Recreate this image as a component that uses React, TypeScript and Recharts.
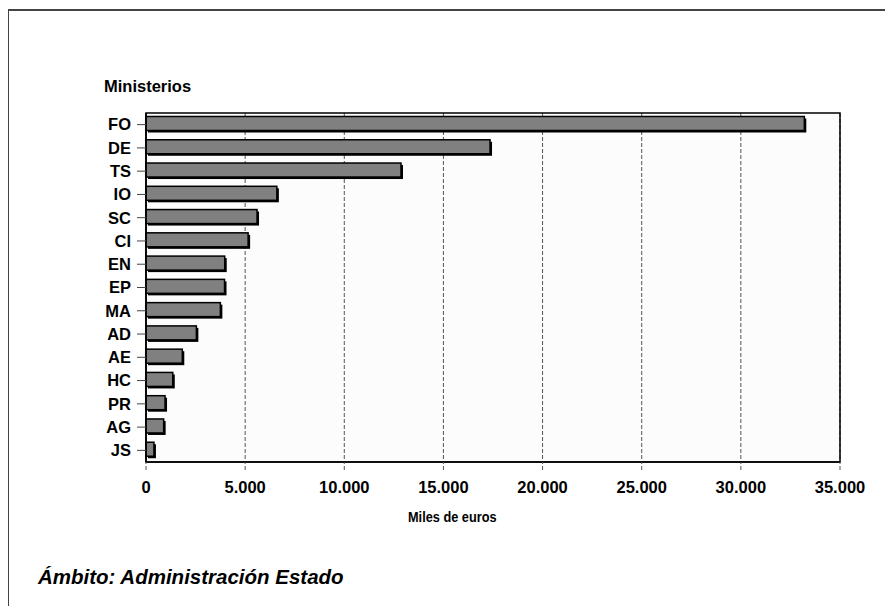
import React from 'react';
import { Bar, BarChart, CartesianGrid, ReferenceArea, XAxis, YAxis } from 'recharts';

const categories = ['FO', 'DE', 'TS', 'IO', 'SC', 'CI', 'EN', 'EP', 'MA', 'AD', 'AE', 'HC', 'PR', 'AG', 'JS'];
const values = [33200, 17350, 12860, 6600, 5600, 5150, 3970, 3960, 3750, 2540, 1830, 1350, 960, 890, 400];
const xTicks = [0, 5000, 10000, 15000, 20000, 25000, 30000, 35000];

const data = categories.map((name, i) => ({ name, value: values[i] }));

const FONT = '"Liberation Sans", Arial, sans-serif';

const fmt = (v: number) => String(v).replace(/\B(?=(\d{3})+(?!\d))/g, '.');

// grey bar with a black drop shadow, nudged up a little like the original
const ShadowBar = (props: any) => {
  const { x, y, width, height } = props;
  if (!width || width <= 0) return null;
  const top = y - 1.5;
  return (
    <g>
      <rect x={x + 2} y={top + 2} width={width} height={height} fill="#000" />
      <rect x={x} y={top} width={width} height={height} fill="#808080" stroke="#000" strokeWidth={1.5} />
    </g>
  );
};

const App: React.FC = () => {
  return (
    <div style={{ position: 'relative', width: 893, height: 614, margin: -8, background: '#fff', fontFamily: FONT }}>
      <div style={{ position: 'absolute', left: 7, top: 9, width: 886, height: 2, background: '#444' }} />
      <div style={{ position: 'absolute', left: 7, top: 9, width: 2, height: 605, background: '#444' }} />
      <div style={{ position: 'absolute', left: 104, top: 77, fontSize: 16.5, fontWeight: 'bold' }}>Ministerios</div>
      <BarChart
        width={893}
        height={614}
        layout="vertical"
        data={data}
        margin={{ top: 113, right: 53, bottom: 122, left: 106 }}
        style={{ position: 'absolute', left: 0, top: 0 }}
      >
        <CartesianGrid horizontal={false} stroke="#555" strokeDasharray="4 2" fill="#fcfcfc" />
        <XAxis
          type="number"
          domain={[0, 35000]}
          ticks={xTicks}
          height={30}
          tickFormatter={fmt}
          axisLine={{ stroke: '#000', strokeWidth: 1.5 }}
          tickLine={{ stroke: '#555', strokeDasharray: '4 2' }}
          tickSize={8}
          tickMargin={11}
          tick={{ fill: '#000', fontSize: 16.5, fontWeight: 'bold', fontFamily: FONT }}
        />
        <YAxis
          type="category"
          dataKey="name"
          width={40}
          interval={0}
          axisLine={{ stroke: '#000', strokeWidth: 1.5 }}
          tickLine={{ stroke: '#444' }}
          tickSize={9}
          tickMargin={6}
          tick={{ fill: '#000', fontSize: 16.5, fontWeight: 'bold', fontFamily: FONT }}
        />
        <ReferenceArea x1={0} x2={35000} fill="none" stroke="#000" strokeWidth={1.5} ifOverflow="visible" />
        <Bar dataKey="value" barSize={14} shape={ShadowBar} isAnimationActive={false} />
      </BarChart>
      <div
        style={{
          position: 'absolute',
          left: 408,
          top: 508,
          fontSize: 15,
          fontWeight: 'bold',
          transform: 'scaleX(0.85)',
          transformOrigin: 'left top',
          whiteSpace: 'nowrap',
        }}
      >
        Miles de euros
      </div>
      <div style={{ position: 'absolute', left: 38, top: 565, fontSize: 20.5, fontWeight: 'bold', fontStyle: 'italic' }}>
        Ámbito: Administración Estado
      </div>
    </div>
  );
};

export default App;
